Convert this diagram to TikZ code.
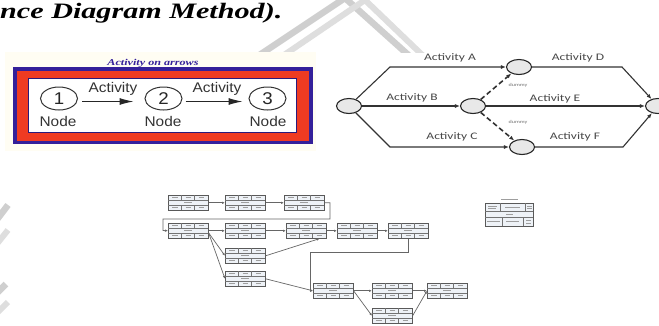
\documentclass[tikz,border=0pt]{standalone}
\usepackage{graphicx}
\usepackage{fontspec}
\setmainfont{Liberation Serif}
\newfontfamily\arialf{Liberation Sans}
\newfontfamily\calf{Carlito}
\usetikzlibrary{arrows.meta,calc,shapes.geometric}
\definecolor{aoablue}{HTML}{34209A}
\definecolor{aoared}{HTML}{EF3B22}
\definecolor{aoacream}{HTML}{FFFDF3}
\definecolor{wmgray}{HTML}{CFCFCF}
\definecolor{wmlight}{HTML}{DEDEDE}
\definecolor{pdmfill}{HTML}{EEF2F7}
\newcommand\pdm[3]{%
  \node[pdmbox] (#1) at (#2,#3) {};
  \begin{scope}[shift={(#2,#3)}]
    \draw[pdmgrid] (0,5)--(40,5) (0,10)--(40,10)
      (13.3,0)--(13.3,5) (26.7,0)--(26.7,5)
      (13.3,10)--(13.3,15) (26.7,10)--(26.7,15);
    \draw[pdmink] (4,2.5)--(9.5,2.5) (17.5,2.5)--(22.5,2.5) (30.5,2.5)--(36,2.5)
      (16,7.5)--(24,7.5)
      (4,12.5)--(9.5,12.5) (17.5,12.5)--(22.5,12.5) (30.5,12.5)--(36,12.5);
  \end{scope}}
\begin{document}
\begin{tikzpicture}[x=1pt,y=-1pt,
  aoanode/.style={ellipse, draw=black!80, line width=1pt, fill=white,
    minimum width=37pt, minimum height=23pt, inner sep=0},
  aoatext/.style={font=\arialf\fontsize{14}{16}\selectfont, text=black!80, inner sep=0},
  aoadigit/.style={font=\arialf\fontsize{17}{19}\selectfont, text=black!85, inner sep=0},
  aoaarrow/.style={-{Latex[length=14pt,width=7pt]}, line width=1pt, draw=black!85},
  netnode/.style={ellipse, draw=black!85, fill=black!9, line width=1.1pt,
    minimum width=25pt, minimum height=15pt, inner sep=0},
  netline/.style={line width=1.1pt, draw=black!80},
  netarrow/.style={netline, -{Latex[length=5pt,width=4pt]}},
  dummyarrow/.style={netarrow, dash pattern=on 5pt off 3pt, line width=1.6pt},
  netlabel/.style={font=\calf\fontsize{10}{12}\selectfont, text=black!72, inner sep=0},
  dummylabel/.style={font=\calf\fontsize{4.5}{5}\selectfont, text=black!55, inner sep=0},
  pdmbox/.style={rectangle, draw=black!65, fill=pdmfill, line width=0.6pt,
    minimum width=40pt, minimum height=15pt, inner sep=0, anchor=north west},
  pdmgrid/.style={draw=black!55, line width=0.5pt},
  pdmink/.style={draw=black!38, line width=1.1pt},
  pdmarrow/.style={draw=black!60, line width=0.7pt, -{Latex[length=3pt,width=2.5pt]}},
  wmband/.style={draw=wmgray, line width=6.5pt},
  wmband2/.style={draw=wmlight, line width=6pt}
]
\useasboundingbox (0,0) rectangle (659,325);
\clip (0,0) rectangle (659,325);
\fill[white] (0,0) rectangle (659,325);

% watermark
\draw[wmband] (240,68) -- (345,-2) -- (425,70);
\draw[wmband2] (262,70) -- (365,0) -- (440,72);
\draw[wmband] (-8,226) -- (8,205);
\draw[wmband2] (-8,250) -- (8,230);
\draw[wmband] (-8,298) -- (6,284);
\draw[wmband2] (-8,318) -- (8,302);

% image backgrounds
\fill[aoacream] (5,52) rectangle (316,151);
\fill[white] (316,53) rectangle (659,160);

% ---------- Activity on arrows ----------
\node[font=\fontsize{9}{10}\selectfont\bfseries\itshape, text=aoablue, inner sep=0]
  (aoatitle) at (153,63) {\scalebox{1.35}[1]{Activity on arrows}};
\fill[aoablue] (13,67) rectangle (313,144);
\fill[aoared] (17,71) rectangle (309,141);
\filldraw[fill=white, draw=aoablue!80!black, line width=0.8pt] (28,78) rectangle (296,132);

\node[aoanode] (n1) at (59,98.5) {};
\node[aoanode] (n2) at (163.5,98.5) {};
\node[aoanode] (n3) at (267.5,98.5) {};
\node[aoadigit] (d1) at (n1) {\scalebox{1.1}[1]{1}};
\node[aoadigit] (d2) at (n2) {\scalebox{1.1}[1]{2}};
\node[aoadigit] (d3) at (n3) {\scalebox{1.1}[1]{3}};
\node[aoatext] (node1) at (58,121) {\scalebox{1.1}[1]{Node}};
\node[aoatext] (node2) at (163,121) {\scalebox{1.1}[1]{Node}};
\node[aoatext] (node3) at (268,121) {\scalebox{1.1}[1]{Node}};
\node[aoatext] (act1) at (113,89) {\scalebox{1.1}[1]{Activity}};
\node[aoatext] (act2) at (217,89) {\scalebox{1.1}[1]{Activity}};
\draw[aoaarrow, shorten <=4pt, shorten >=11pt] ([yshift=-3pt]n1.east) -- ([yshift=-3pt]n2.west);
\draw[aoaarrow, shorten <=3pt, shorten >=6pt] ([yshift=-3pt]n2.east) -- ([yshift=-3pt]n3.west);

% ---------- Activity network ----------
\node[netnode] (L) at (349,106) {};
\node[netnode] (T) at (519,67) {};
\node[netnode] (M) at (473,106) {};
\node[netnode] (B) at (522,147) {};
\node[netnode] (R) at (658,106) {};
\coordinate (ta) at (390,67);
\coordinate (tb) at (622,67);
\coordinate (ba) at (390,147);
\coordinate (bb) at (623,147);
\draw[netarrow] (L) -- (ta) -- (T);
\draw[netarrow] (T) -- (tb) -- (R);
\draw[netarrow] (L) -- (M);
\draw[netarrow] (M) -- (R);
\draw[netarrow] (L) -- (ba) -- (B);
\draw[netarrow] (B) -- (bb) -- (R);
\draw[dummyarrow] (M) -- (T);
\draw[dummyarrow] (M) -- (B);
\node[netlabel] (la) at (450,58) {\scalebox{1.35}[1]{Activity A}};
\node[netlabel] (lb) at (412,98) {\scalebox{1.35}[1]{Activity B}};
\node[netlabel] (lc) at (452,137) {\scalebox{1.35}[1]{Activity C}};
\node[netlabel] (ld) at (578,58) {\scalebox{1.35}[1]{Activity D}};
\node[netlabel] (le) at (555,99) {\scalebox{1.35}[1]{Activity E}};
\node[netlabel] (lf) at (575,137) {\scalebox{1.35}[1]{Activity F}};
\node[dummylabel] (du1) at (518,85) {\scalebox{1.35}[1]{dummy}};
\node[dummylabel] (du2) at (518,122) {\scalebox{1.35}[1]{dummy}};

% ---------- Precedence diagram ----------
\pdm{b1}{168}{195}
\pdm{b2}{225}{195}
\pdm{b3}{284}{195}
\pdm{b4}{168}{223}
\pdm{b5}{225}{223}
\pdm{b6}{286}{223}
\pdm{b7}{337}{223}
\pdm{b8}{388}{223}
\pdm{b9}{225}{248}
\pdm{b10}{225}{271}
\pdm{b11}{313}{283}
\pdm{b12}{372}{283}
\pdm{b13}{427}{283}
\pdm{b14}{372}{308}
\draw[pdmarrow] (b1.east) -- (b2.west);
\draw[pdmarrow] (b2.east) -- (b3.west);
\draw[pdmarrow] (b3.east) -| (330,219) -| (163,230.5) -- (b4.west);
\draw[pdmarrow] (b4.east) -- (b5.west);
\draw[pdmarrow] (b5.east) -- (b6.west);
\draw[pdmarrow] (b6.east) -- (b7.west);
\draw[pdmarrow] (b7.east) -- (b8.west);
\draw[pdmarrow] ([yshift=-2pt]b4.east) -- (b9.west);
\draw[pdmarrow] ([yshift=-2pt]b4.east) -- (b10.west);
\draw[pdmarrow] (b9.east) -- ([xshift=-7pt]b6.south east);
\draw[pdmarrow] (b10.east) -- (b11.west);
\draw[pdmarrow] (b8.south) |- (310,252) |- (b11.west);
\draw[pdmarrow] (b11.east) -- (b12.west);
\draw[pdmarrow] (b12.east) -- (b13.west);
\draw[pdmarrow] (b11.east) -- (b14.west);
\draw[pdmarrow] (b14.east) -- (b13.west);

% legend
\node[rectangle, draw=black!65, fill=pdmfill, line width=0.6pt, minimum width=48pt,
  minimum height=23pt, inner sep=0, anchor=north west] (legend) at (485,203) {};
\draw[pdmgrid] (485,211)--(533,211) (485,217)--(533,217)
  (500,203)--(500,211) (525,203)--(525,211)
  (502,217)--(502,226) (523,217)--(523,226);
\draw[pdmink] (501,199.5)--(518,199.5);
\draw[pdmink, line width=0.8pt] (488,206)--(497,206) (488,208.5)--(496,208.5)
  (505,207)--(520,207) (527,206)--(532,206) (527,208.5)--(532,208.5)
  (506,214)--(513,214)
  (487,221.5)--(500,221.5) (506,221.5)--(519,221.5) (526,220)--(531,220) (526,223)--(531,223);

% ---------- title ----------
\node[anchor=base west, inner sep=0] (title) at (0,18)
  {\fontsize{22}{26}\selectfont\bfseries\itshape\scalebox{1.37}[1]{nce Diagram Method).}};
\end{tikzpicture}
\end{document}
